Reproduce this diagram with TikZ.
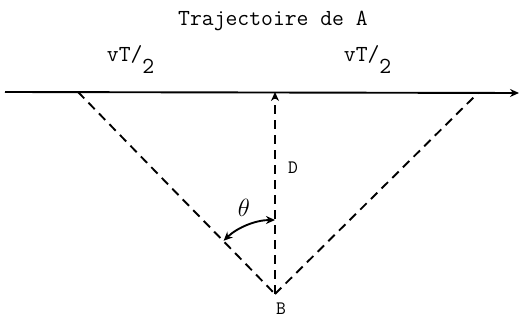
\documentclass[tikz,border=0pt]{standalone}
\usetikzlibrary{arrows.meta}
\begin{document}
\begin{tikzpicture}[x=1pt,y=-1pt, line width=1.9pt,
  dashline/.style={dash pattern=on 9pt off 6pt},
  tipend/.style={-{Stealth[length=9pt,width=8pt]}},
  bigtt/.style={font=\fontsize{23}{27}\selectfont\ttfamily, inner sep=0pt},
  smalltt/.style={font=\fontsize{19}{22}\selectfont\ttfamily, inner sep=0pt}]
\useasboundingbox (0,0) rectangle (520,320);
\coordinate (L0) at (5,92);
\coordinate (E) at (519,93);
\coordinate (P) at (78,92);
\coordinate (Q) at (478,93);
\coordinate (A) at (275,92);
\coordinate (B) at (275,294);
\coordinate (arcstart) at (275,220);
\draw[tipend] (L0) -- (E);
\draw[dashline] (P) -- (B);
\draw[dashline] (B) -- (Q);
\draw[dashline, tipend] (B) -- (A);
\draw[{Stealth[length=9pt,width=8pt]}-{Stealth[length=9pt,width=8pt]}] (arcstart) arc[start angle=-90, end angle=-134, radius=74];
\node[bigtt] (title) at (273,21) {Trajectoire de A};
\node[bigtt, anchor=base west] (vl) at (106,62) {vT/\raisebox{-0.5em}{2}};
\node[bigtt, anchor=base west] (vr) at (343,62) {vT/\raisebox{-0.5em}{2}};
\node[smalltt] (D) at (293,168) {D};
\node[smalltt] (Blab) at (281,309) {B};
\node[inner sep=0pt, font=\fontsize{28}{32}\selectfont] (theta) at (244,208) {$\theta$};
\end{tikzpicture}
\end{document}
